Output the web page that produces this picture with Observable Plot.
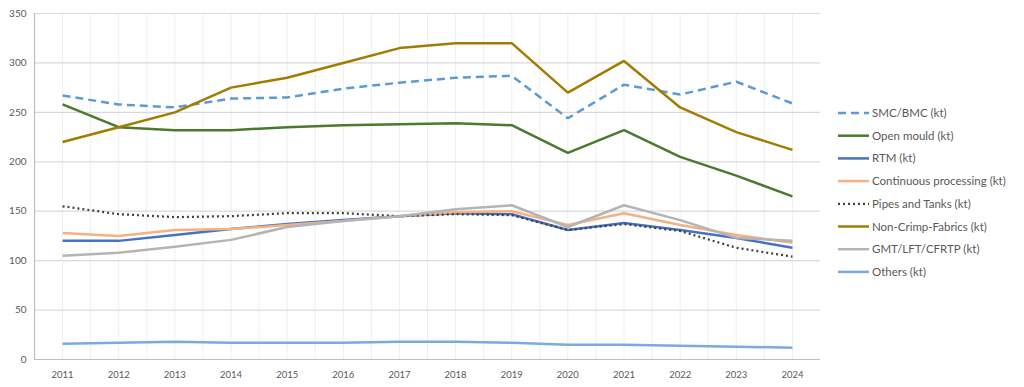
<!DOCTYPE html>
<html>
<head>
<meta charset="utf-8">
<script src="https://cdn.jsdelivr.net/npm/d3@7"></script>
<script src="https://cdn.jsdelivr.net/npm/@observablehq/plot@0.6"></script>
<style>
  html, body { margin: 0; padding: 0; background: #fff; }
  #wrap { position: relative; width: 1024px; height: 387px; overflow: hidden; font-family: Lato, "Open Sans", sans-serif; }
  #chart { position: absolute; left: 0; top: 0; }
  #legend { position: absolute; left: 830px; top: 100px; }
</style>
</head>
<body>
<div id="wrap"><div id="chart"></div><svg id="legend" width="194" height="190"></svg></div>
<script>
const years = [2011, 2012, 2013, 2014, 2015, 2016, 2017, 2018, 2019, 2020, 2021, 2022, 2023, 2024];
const smcBmc      = [267, 258, 255, 264, 265, 274, 280, 285, 287, 244, 278, 268, 281, 259];
const openMould   = [258, 235, 232, 232, 235, 237, 238, 239, 237, 209, 232, 205, 186, 165];
const rtm         = [120, 120, 126, 132, 137, 141, 145, 148, 147, 131, 138, 131, 123, 113];
const continuous  = [128, 125, 131, 132, 136, 140, 145, 149, 150, 136, 148, 136, 126, 118];
const pipesTanks  = [155, 147, 144, 145, 148, 148, 145, 147, 146, 131, 137, 130, 113, 104];
const nonCrimp    = [220, 235, 250, 275, 285, 300, 315, 320, 320, 270, 302, 255, 230, 212];
const gmtLft      = [105, 108, 114, 121, 134, 140, 145, 152, 156, 134, 156, 141, 123, 120];
const others      = [16, 17, 18, 17, 17, 17, 18, 18, 17, 15, 15, 14, 13, 12];
const yTicks = [0, 50, 100, 150, 200, 250, 300, 350];

const series = [
  {name: "SMC/BMC (kt)", values: smcBmc, color: "#5b9bd5", dash: "8,5", width: 2.5},
  {name: "Open mould (kt)", values: openMould, color: "#4a7a2e", dash: null, width: 2.5},
  {name: "RTM (kt)", values: rtm, color: "#4472c4", dash: null, width: 2.5},
  {name: "Continuous processing (kt)", values: continuous, color: "#f4b183", dash: null, width: 2.5},
  {name: "Pipes and Tanks (kt)", values: pipesTanks, color: "#404040", dash: "2,3", width: 2.25},
  {name: "Non-Crimp-Fabrics (kt)", values: nonCrimp, color: "#a27c00", dash: null, width: 2.5},
  {name: "GMT/LFT/CFRTP (kt)", values: gmtLft, color: "#b4b4b4", dash: null, width: 2.5},
  {name: "Others (kt)", values: others, color: "#7aaade", dash: null, width: 2.5}
];

const vGrid = d3.range(2011, 2024.01, 0.5);

const marks = [
  Plot.ruleX(vGrid, {stroke: "#efefef", strokeWidth: 1}),
  Plot.ruleY(yTicks.filter(d => d > 0), {stroke: "#d9d9d9", strokeWidth: 1.2}),
  Plot.ruleY([0], {stroke: "#bfbfbf", strokeWidth: 1.2}),
  Plot.ruleX([2010.5], {stroke: "#bfbfbf", strokeWidth: 1.2}),
  Plot.axisY({ticks: yTicks, tickSize: 0, tickPadding: 8, fontSize: 10, fill: "#595959", label: null}),
  Plot.axisX({ticks: years, tickSize: 0, tickPadding: 12, fontSize: 9.5, fill: "#595959", tickFormat: d => String(d), label: null})
];
for (const s of series) {
  marks.push(Plot.line(years.map((y, i) => ({year: y, value: s.values[i]})), {
    x: "year", y: "value", stroke: s.color, strokeWidth: s.width,
    strokeDasharray: s.dash || undefined, strokeLinejoin: "miter", strokeLinecap: "butt"
  }));
}

const chart = Plot.plot({
  width: 1024,
  height: 387,
  marginLeft: 34,
  marginRight: 204,
  marginTop: 13,
  marginBottom: 28,
  style: {fontFamily: "Lato, 'Open Sans', sans-serif", background: "#fff"},
  x: {type: "linear", domain: [2010.5, 2024.5], axis: null},
  y: {domain: [0, 350], axis: null},
  marks
});
document.getElementById("chart").appendChild(chart);

const lg = d3.select("#legend");
series.forEach((s, i) => {
  const y = 13 + i * 22.7;
  const g = lg.append("g").attr("transform", `translate(0,${y})`);
  g.append("line").attr("x1", 8).attr("x2", 39).attr("y1", 0).attr("y2", 0)
    .attr("stroke", s.color).attr("stroke-width", s.width)
    .attr("stroke-dasharray", s.dash || null);
  g.append("text").attr("x", 42).attr("y", 0).attr("dy", "0.35em")
    .attr("font-size", 11.5).attr("fill", "#595959")
    .attr("font-family", "Lato, 'Open Sans', sans-serif")
    .text(s.name);
});
</script>
</body>
</html>
